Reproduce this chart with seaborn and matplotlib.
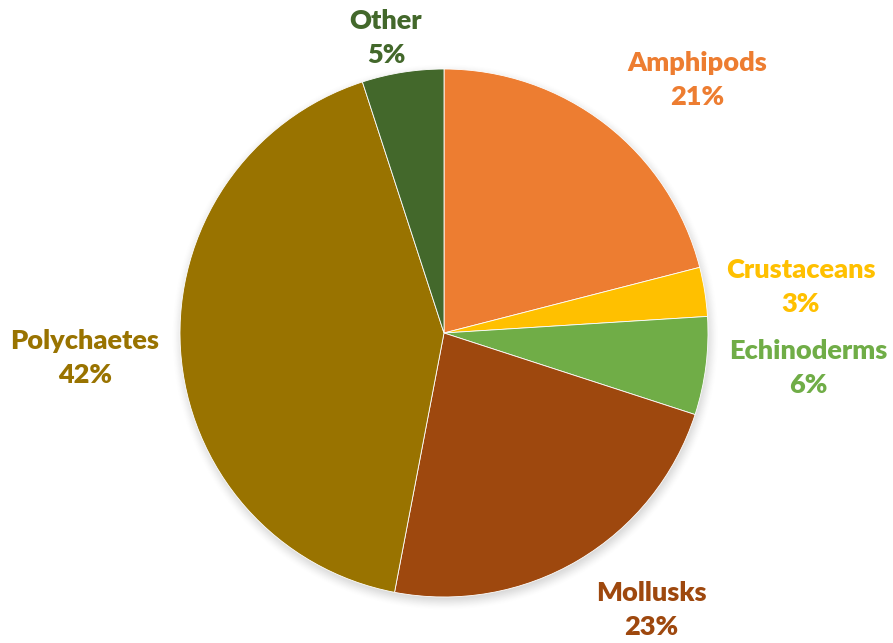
import numpy as np
import matplotlib
matplotlib.use("Agg")
import matplotlib.pyplot as plt
import seaborn as sns

# Share of benthic prey groups (%)
categories = ["Amphipods", "Crustaceans", "Echinoderms", "Mollusks", "Polychaetes", "Other"]
shares = [21, 3, 6, 23, 42, 5]
colors = ["#ED7D31", "#FFC000", "#70AD47", "#9E480E", "#997300", "#43682B"]

# Label anchor points (data units, pie radius = 1)
label_xy = [(0.958, 0.958), (1.352, 0.174), (1.379, -0.133),
            (0.784, -1.049), (-1.360, -0.095), (-0.220, 1.117)]

sns.set_theme(style="white")
plt.rcParams["font.family"] = ["Lato", "DejaVu Sans"]

W, H, DPI = 893, 643, 100
cx, cy, R = 444, 333, 264
fig = plt.figure(figsize=(W / DPI, H / DPI), dpi=DPI)
ax = fig.add_axes([0, 0, 1, 1])

# soft drop shadow behind the pie
xs = np.linspace(-cx / R, (W - cx) / R, 600)
ys = np.linspace((cy - H) / R, cy / R, 440)
X, Y = np.meshgrid(xs, ys)
r = np.hypot(X - 0.005, Y + 0.015)
t = np.clip((r - 0.97) / 0.07, 0, 1)
alpha = 0.28 * (1 - t * t * (3 - 2 * t))
shadow = np.zeros(X.shape + (4,))
shadow[..., :3] = 0.35
shadow[..., 3] = alpha
ax.imshow(shadow, extent=(xs[0], xs[-1], ys[0], ys[-1]), origin="lower",
          zorder=0, interpolation="bilinear")

palette = sns.color_palette(colors)
wedges, _ = ax.pie(shares, colors=palette, startangle=90, counterclock=False,
                   radius=1.0, center=(0, 0), frame=True,
                   wedgeprops=dict(edgecolor="white", linewidth=0.6))
for w in wedges:
    w.set_zorder(2)
ax.set_xlim(-cx / R, (W - cx) / R)
ax.set_ylim((cy - H) / R, cy / R)
ax.set_aspect("equal")
ax.axis("off")

for name, val, col, (lx, ly) in zip(categories, shares, colors, label_xy):
    ax.text(lx, ly, f"{name}\n{val}%", color=col, fontsize=19.5, fontweight="heavy",
            ha="center", va="center", linespacing=1.5, zorder=3)

fig.savefig("out.png", dpi=DPI, facecolor="white")
